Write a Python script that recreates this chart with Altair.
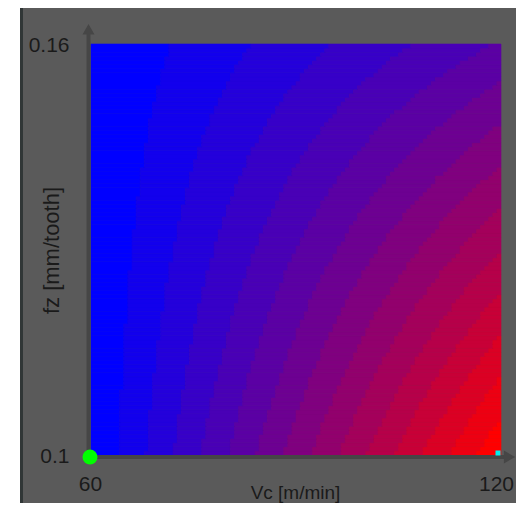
import altair as alt
import numpy as np
import pandas as pd

alt.data_transformers.disable_max_rows()

# ---- values ----
VC_DOMAIN = [60, 120]
FZ_DOMAIN = [0.1, 0.16]
VC_TICKS = [60, 120]
FZ_TICKS = [0.1, 0.16]
# colour bands crossed going from Vc=60 to Vc=120, read along the bottom and top edges
FZ_EDGES = [0.1, 0.16]
BANDS_ACROSS = [14.9, 5.1]
N_BANDS = 15
GRID_N = 100
GREEN_PT = [{"x0": 60, "y0": 0.1}]
CYAN_PT = [{"x0": 120, "y0": 0.1}]

FONT = "Liberation Sans"
TEXT = "#1a1a1a"
BG = "#5a5a5a"
AXIS = "#464646"


def band_color(k):
    t = k / (N_BANDS - 1)
    r = int(round(255 * t))
    b = 255 - r
    return "#%02x00%02x" % (r, b)


vc_edges = np.linspace(VC_DOMAIN[0], VC_DOMAIN[1], GRID_N + 1)
fz_edges = np.linspace(FZ_DOMAIN[0], FZ_DOMAIN[1], GRID_N + 1)
vc_c = (vc_edges[:-1] + vc_edges[1:]) / 2
fz_c = (fz_edges[:-1] + fz_edges[1:]) / 2

rows = []
for j in range(GRID_N):
    rate = np.interp(fz_c[j], FZ_EDGES, BANDS_ACROSS)
    lev = np.floor((vc_c - VC_DOMAIN[0]) / (VC_DOMAIN[1] - VC_DOMAIN[0]) * rate)
    lev = np.clip(lev, 0, N_BANDS - 1).astype(int)
    start = 0
    for i in range(1, GRID_N + 1):
        if i == GRID_N or lev[i] != lev[start]:
            rows.append({"x0": vc_edges[start], "x1": vc_edges[i],
                         "y0": fz_edges[j], "y1": fz_edges[j + 1],
                         "c": band_color(lev[start])})
            start = i
cells = pd.DataFrame(rows)

xscale = alt.Scale(domain=VC_DOMAIN, nice=False, zero=False)
yscale = alt.Scale(domain=FZ_DOMAIN, nice=False, zero=False)

xaxis = alt.Axis(values=VC_TICKS, format="d", title="Vc [m/min]", domain=False,
                 ticks=False, grid=False, labelFlush=False, labelPadding=18,
                 labelOffset={"condition": {"test": "datum.value >= 120", "value": -5}, "value": -1},
                 labelFontSize=21, labelColor=TEXT, labelFont=FONT, zindex=2,
                 titleX=204, titleY=37, titleBaseline="middle", titleAlign="center",
                 titleFontSize=19, titleFontWeight="normal", titleColor=TEXT, titleFont=FONT)
yaxis = alt.Axis(values=FZ_TICKS, format=".2~f", title="fz [mm/tooth]", domain=False,
                 ticks=False, grid=False, labelFlush=False, labelPadding=22, labelOffset=1,
                 labelFontSize=21, labelColor=TEXT, labelFont=FONT, zindex=2,
                 titleX=-40, titleY=206, titleBaseline="middle", titleAlign="center",
                 titleFontSize=22, titleFontWeight="normal", titleColor=TEXT, titleFont=FONT)

X = alt.X("x0:Q", scale=xscale, axis=xaxis)
Y = alt.Y("y0:Q", scale=yscale, axis=yaxis)

one = alt.Data(values=[{}])

bg = alt.Chart(one).mark_rect(color=BG).encode(
    x=alt.value(-71), x2=alt.value(425), y=alt.value(-36), y2=alt.value(459))
edge = alt.Chart(one).mark_rect(color="#303636").encode(
    x=alt.value(-71), x2=alt.value(-68), y=alt.value(-36), y2=alt.value(459))

heat = alt.Chart(cells).mark_rect(strokeWidth=0.6).encode(
    x=X, x2="x1:Q", y=Y, y2="y1:Q",
    color=alt.Color("c:N", scale=None),
    stroke=alt.Color("c:N", scale=None))

yline = alt.Chart(one).mark_rule(color=AXIS, strokeWidth=4).encode(
    x=alt.value(-2.5), y=alt.value(-14), y2=alt.value(415))
xline = alt.Chart(one).mark_rule(color=AXIS, strokeWidth=4).encode(
    x=alt.value(-4.5), x2=alt.value(414), y=alt.value(413))
yarrow = alt.Chart(one).mark_point(shape="triangle-up", filled=True, size=144,
                                   color=AXIS, opacity=1).encode(
    x=alt.value(-2.5), y=alt.value(-14.8))
xarrow = alt.Chart(one).mark_point(shape="triangle-right", filled=True, size=169,
                                   color=AXIS, opacity=1).encode(
    x=alt.value(418.5), y=alt.value(413))

green = alt.Chart(alt.Data(values=GREEN_PT)).mark_point(
    shape="circle", filled=True, size=225, color="#00ff00", opacity=1, yOffset=2, xOffset=-1
).encode(x=X, y=Y)
cyan = alt.Chart(alt.Data(values=CYAN_PT)).mark_point(
    shape="square", filled=True, size=25, color="#00eeee", opacity=1, xOffset=-3, yOffset=-2
).encode(x=X, y=Y)

chart = alt.layer(bg, edge, heat, yline, xline, yarrow, xarrow, green, cyan).properties(
    width=410, height=411,
    autosize=alt.AutoSizeParams(type="none"),
    padding={"left": 83, "top": 36, "right": 15, "bottom": 48},
    background="white",
).configure_view(stroke=None)

chart.save("out.html", embed_options={"renderer": "svg", "actions": False})
